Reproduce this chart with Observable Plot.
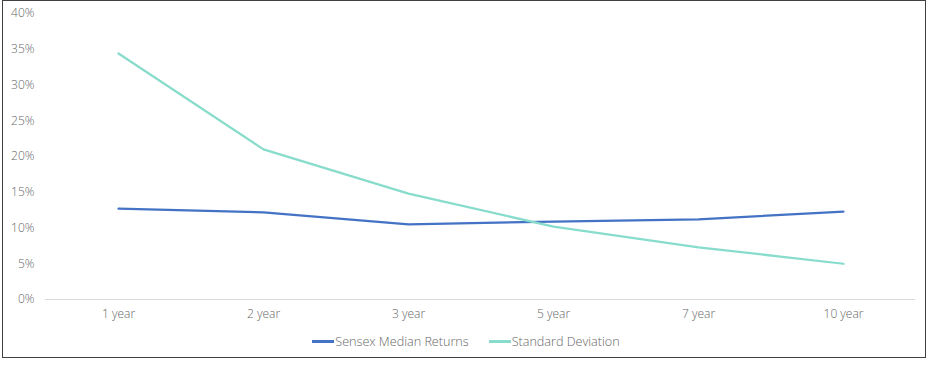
<!DOCTYPE html>
<html>
<head>
<meta charset="utf-8">
<script src="https://cdn.jsdelivr.net/npm/d3@7"></script>
<script src="https://cdn.jsdelivr.net/npm/@observablehq/plot@0.6"></script>
<style>
  body { margin: 0; background: #fff; }
  #wrap { position: relative; width: 932px; height: 365px; overflow: hidden; font-family: "Open Sans", sans-serif; }
  #frame { position: absolute; left: 2px; top: 0px; width: 922px; height: 356px; border: 1.5px solid #404040; pointer-events: none; }
  #chart { position: absolute; left: 0; top: 0; }
  #legend { position: absolute; left: 0; top: 333px; width: 932px; display: flex; justify-content: center; gap: 20px; font-size: 12.6px; color: #666; font-weight: 300; }
  .item { display: flex; align-items: center; }
  .sw { display: inline-block; width: 22px; height: 3px; margin-right: 1px; }
</style>
</head>
<body>
<div id="wrap">
  <div id="chart"></div>
  <div id="frame"></div>
  <div id="legend"></div>
</div>
<script>
const periods = ["1 year", "2 year", "3 year", "5 year", "7 year", "10 year"];
const sensexMedian = [12.7, 12.2, 10.5, 10.9, 11.2, 12.3];
const stdDeviation = [34.4, 21.0, 14.8, 10.2, 7.3, 5.0];
const yTicks = [0, 5, 10, 15, 20, 25, 30, 35, 40];
const seriesNames = ["Sensex Median Returns", "Standard Deviation"];
const colors = ["#4472C4", "#88DCCB"];

const data = [];
periods.forEach((p, i) => {
  data.push({period: p, value: sensexMedian[i], series: seriesNames[0]});
  data.push({period: p, value: stdDeviation[i], series: seriesNames[1]});
});

const chart = Plot.plot({
  width: 932,
  height: 330,
  marginLeft: 45,
  marginRight: 17,
  marginTop: 13,
  marginBottom: 31,
  style: {fontFamily: "'Open Sans', sans-serif", fontSize: "12px", fontWeight: 300, color: "#666", background: "transparent"},
  x: {type: "point", domain: periods, padding: 0.5, label: null, tickSize: 0, tickPadding: 10},
  y: {domain: [0, 40], ticks: yTicks, tickFormat: d => d + "%", label: null, tickSize: 0, tickPadding: 11},
  color: {domain: seriesNames, range: colors},
  marks: [
    Plot.ruleY([0], {stroke: "#d9d9d9", strokeWidth: 1}),
    Plot.line(data, {x: "period", y: "value", z: "series", stroke: "series", strokeWidth: 2.25, strokeLinejoin: "round", strokeLinecap: "round"})
  ]
});
document.getElementById("chart").appendChild(chart);

const legend = document.getElementById("legend");
seriesNames.forEach((n, i) => {
  const it = document.createElement("div");
  it.className = "item";
  it.innerHTML = `<span class="sw" style="background:${colors[i]}"></span><span>${n}</span>`;
  legend.appendChild(it);
});
</script>
</body>
</html>
